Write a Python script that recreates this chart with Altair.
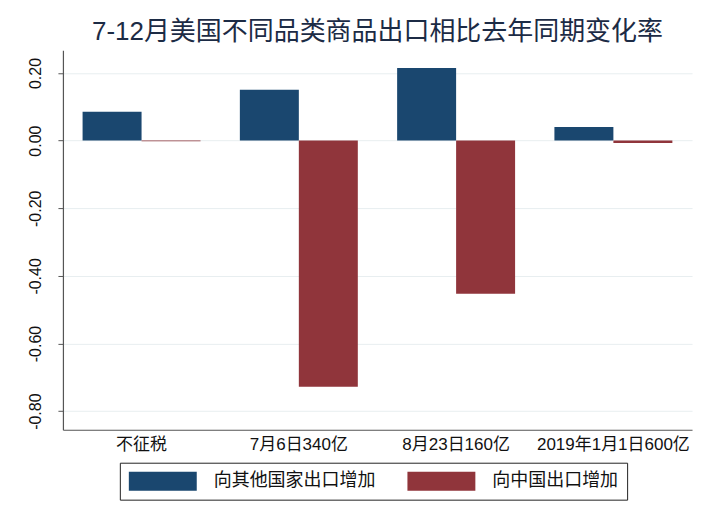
import altair as alt
import pandas as pd

categories = ["不征税", "7月6日340亿", "8月23日160亿", "2019年1月1日600亿"]
series = ["向其他国家出口增加", "向中国出口增加"]
to_others = [0.085, 0.150, 0.215, 0.040]
to_china = [-0.002, -0.728, -0.453, -0.007]
colors = ["#1a476f", "#90353b"]
y_ticks = [-0.8, -0.6, -0.4, -0.2, 0.0, 0.2]

rows = []
for c, a, b in zip(categories, to_others, to_china):
    rows.append({"cat": c, "series": series[0], "value": a})
    rows.append({"cat": c, "series": series[1], "value": b})
df = pd.DataFrame(rows)

FONT = "Liberation Sans, Arial, Noto Sans CJK SC"

bars = alt.Chart(df).mark_bar().encode(
    x=alt.X("cat:N", sort=categories, title=None,
            scale=alt.Scale(paddingInner=0.25, paddingOuter=0.125),
            axis=alt.Axis(labelAngle=0, ticks=False, labelFontSize=17, labelColor="#111",
                          labelPadding=7, domainColor="#555", domainWidth=1.2,
                          labelFont=FONT, grid=False)),
    xOffset=alt.XOffset("series:N", sort=series, scale=alt.Scale(paddingInner=0, paddingOuter=0)),
    y=alt.Y("value:Q", title=None,
            scale=alt.Scale(domain=[-0.855, 0.267], nice=False, zero=False),
            axis=alt.Axis(values=y_ticks, format=".2f",
                          labelExpr="replace(datum.label, '\u2212', '-')",
                          labelAngle=270, labelAlign="center",
                          labelBaseline="bottom", labelFontSize=16, labelColor="#111",
                          labelPadding=14, tickSize=5, tickColor="#555", domainColor="#555",
                          domainWidth=1.2, gridColor="#e8eef0", gridWidth=1, labelFont=FONT)),
    color=alt.Color("series:N", sort=series,
                    scale=alt.Scale(domain=series, range=colors),
                    legend=alt.Legend(title=None, orient="none", legendX=57, legendY=413,
                                      direction="horizontal", columns=2,
                                      symbolType="M-1,-1L6.16,-1L6.16,1L-1,1Z",
                                      symbolSize=361, symbolStrokeWidth=0, symbolOpacity=1,
                                      labelFontSize=18, labelFont=FONT, labelColor="#111",
                                      labelOffset=66, columnPadding=32,
                                      strokeColor="#222", padding=9, labelLimit=300)),
)

chart = bars.properties(
    width=630, height=380,
    autosize=alt.AutoSizeParams(type="none"),
    padding={"left": 55, "top": 42, "right": 20, "bottom": 90},
    title=alt.TitleParams("7-12月美国不同品类商品出口相比去年同期变化率", fontSize=26,
                          fontWeight="normal", color="#1c2b45", font=FONT,
                          anchor="middle", frame="group", offset=5),
).configure_view(stroke=None)

chart.save("out.html", embed_options={"renderer": "svg", "actions": False})
